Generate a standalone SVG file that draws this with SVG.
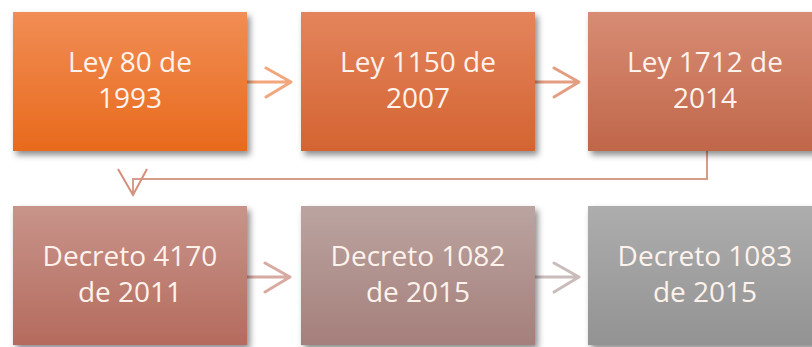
<svg xmlns="http://www.w3.org/2000/svg" width="812" height="347" viewBox="0 0 812 347">
  <defs>
    <filter id="sh" x="-10%" y="-10%" width="125%" height="130%">
      <feDropShadow dx="3" dy="4" stdDeviation="3" flood-color="#000" flood-opacity="0.45"/>
    </filter>
    <linearGradient id="g1" x1="0" y1="0" x2="0" y2="1"><stop offset="0" stop-color="#f18d55"/><stop offset="1" stop-color="#e86a1c"/></linearGradient>
    <linearGradient id="g2" x1="0" y1="0" x2="0" y2="1"><stop offset="0" stop-color="#e4845c"/><stop offset="1" stop-color="#d46432"/></linearGradient>
    <linearGradient id="g3" x1="0" y1="0" x2="0" y2="1"><stop offset="0" stop-color="#d88c74"/><stop offset="1" stop-color="#c0664a"/></linearGradient>
    <linearGradient id="g4" x1="0" y1="0" x2="0" y2="1"><stop offset="0" stop-color="#c8948a"/><stop offset="1" stop-color="#b56b5e"/></linearGradient>
    <linearGradient id="g5" x1="0" y1="0" x2="0" y2="1"><stop offset="0" stop-color="#bba4a0"/><stop offset="1" stop-color="#a57f7b"/></linearGradient>
    <linearGradient id="g6" x1="0" y1="0" x2="0" y2="1"><stop offset="0" stop-color="#adadad"/><stop offset="1" stop-color="#939393"/></linearGradient>
  </defs>
  <style>
    .box { filter: url(#sh); }
    .lbl { font-family: "Open Sans", "Liberation Sans", sans-serif; font-size: 28px; fill: #fdf3ec; text-anchor: middle; }
    .arr { fill: none; stroke-width: 3; stroke-linecap: round; stroke-linejoin: round; }
  </style>
  <rect width="812" height="347" fill="#ffffff"/>

  <g id="connectors">
    <path class="arr" stroke="#f2a67c" d="M247 82 H291 M266 68 L291 82 L266 97"/>
    <path class="arr" stroke="#e39d80" d="M535 82 H579 M554 68 L579 82 L554 97"/>
    <path fill="none" stroke="#d79c8a" stroke-width="2" d="M707 151 V179 H133 V195"/>
    <path fill="none" stroke="#d4907c" stroke-width="2" d="M118 169 L133 195 L147 169"/>
    <path class="arr" stroke="#d7aaa2" d="M247 277 H290 M265 263 L290 277 L265 292"/>
    <path class="arr" stroke="#c9bcbb" d="M535 277 H579 M554 263 L579 277 L554 292"/>
  </g>

  <g id="n1">
    <rect class="box" x="13" y="12" width="234" height="139" fill="url(#g1)"/>
    <text class="lbl" x="130" y="72">Ley 80 de</text>
    <text class="lbl" x="130" y="108">1993</text>
  </g>
  <g id="n2">
    <rect class="box" x="301" y="12" width="234" height="139" fill="url(#g2)"/>
    <text class="lbl" x="418" y="72">Ley 1150 de</text>
    <text class="lbl" x="418" y="108">2007</text>
  </g>
  <g id="n3">
    <rect class="box" x="588" y="12" width="234" height="139" fill="url(#g3)"/>
    <text class="lbl" x="705" y="72">Ley 1712 de</text>
    <text class="lbl" x="705" y="108">2014</text>
  </g>
  <g id="n4">
    <rect class="box" x="13" y="206" width="234" height="139" fill="url(#g4)"/>
    <text class="lbl" x="130" y="266">Decreto 4170</text>
    <text class="lbl" x="130" y="302">de 2011</text>
  </g>
  <g id="n5">
    <rect class="box" x="301" y="206" width="234" height="139" fill="url(#g5)"/>
    <text class="lbl" x="418" y="266">Decreto 1082</text>
    <text class="lbl" x="418" y="302">de 2015</text>
  </g>
  <g id="n6">
    <rect class="box" x="588" y="206" width="234" height="139" fill="url(#g6)"/>
    <text class="lbl" x="705" y="266">Decreto 1083</text>
    <text class="lbl" x="705" y="302">de 2015</text>
  </g>
</svg>
